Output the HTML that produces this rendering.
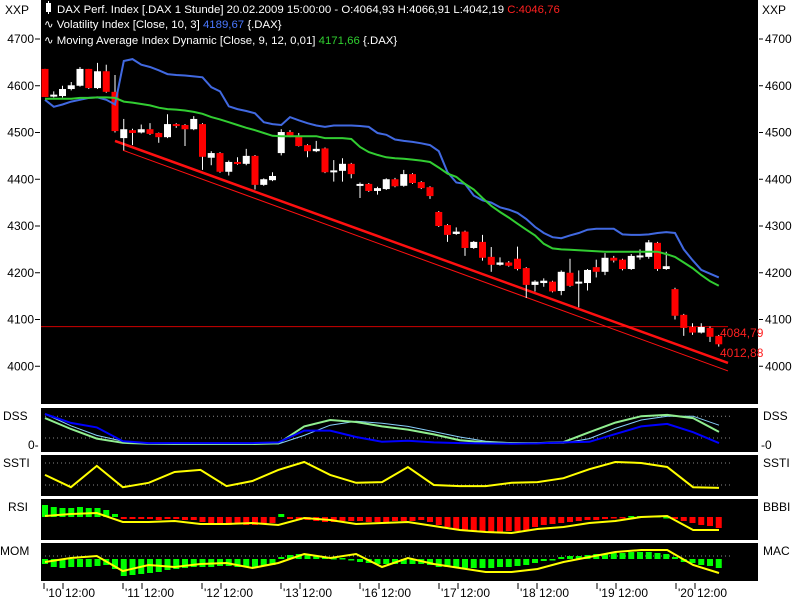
<!DOCTYPE html>
<html><head><meta charset="utf-8"><style>
body{margin:0;background:#fff;width:800px;height:600px;overflow:hidden}
svg{display:block}
text{font-family:"Liberation Sans",sans-serif;font-size:12px}
#legend text{font-size:11.4px}
</style></head><body>
<svg id="c" width="800" height="600" xmlns="http://www.w3.org/2000/svg">
<rect width="800" height="600" fill="#fff"/>
<rect x="41" y="0" width="717" height="404" fill="#000"/>
<rect x="41" y="408" width="717" height="44" fill="#000"/>
<rect x="41" y="455" width="717" height="41" fill="#000"/>
<rect x="41" y="499" width="717" height="41" fill="#000"/>
<rect x="41" y="543" width="717" height="38" fill="#000"/>
<g id="legend">
<rect x="46" y="3" width="5" height="9" fill="#fff"/>
<line x1="48.5" y1="1" x2="48.5" y2="14" stroke="#fff"/>
<text x="57" y="13" fill="#fff">DAX Perf. Index [.DAX  1 Stunde] 20.02.2009 15:00:00 - O:4064,93 H:4066,91 L:4042,19 <tspan fill="#ff2020">C:4046,76</tspan></text>
<text x="44" y="28" fill="#fff">∿ Volatility Index [Close, 10, 3] <tspan fill="#4a78ff">4189,67</tspan> {.DAX}</text>
<text x="44" y="44" fill="#fff">∿ Moving Average Index Dynamic [Close, 9, 12, 0,01] <tspan fill="#30d030">4171,66</tspan> {.DAX}</text>
</g>
<text x="5" y="14" fill="#000">XXP</text>
<text x="762" y="14" fill="#000">XXP</text>
<g id="ax"></g>
<g id="marks"></g>
</svg>
<script>
var priceTicks=[4700,4600,4500,4400,4300,4200,4100,4000];
var openV=[4636,4578,4578,4593,4600,4636,4595,4631,4587,4488,4505,4500,4507,4499,4490,4518,4516,4507,4518,4446,4456,4416,4437,4433,4450,4388,4398,4456,4501,4493,4473,4460,4466,4415,4418,4433,4386,4390,4375,4379,4400,4386,4411,4394,4383,4330,4302,4283,4288,4253,4266,4234,4217,4222,4230,4210,4174,4178,4181,4161,4200,4178,4178,4212,4202,4232,4228,4208,4234,4234,4264,4208,4165,4110,4084,4072,4082,4065];
var closeV=[4576,4581,4593,4601,4636,4595,4631,4587,4503,4507,4499,4507,4497,4490,4518,4514,4507,4529,4448,4456,4416,4437,4433,4450,4388,4400,4407,4501,4493,4471,4460,4465,4415,4419,4433,4411,4390,4375,4381,4400,4385,4411,4392,4381,4364,4300,4281,4288,4253,4266,4232,4217,4222,4215,4208,4174,4181,4183,4160,4202,4172,4181,4206,4202,4232,4226,4208,4236,4237,4265,4208,4214,4108,4082,4072,4084,4063,4047];
var highV=[4636,4588,4600,4608,4640,4636,4649,4645,4623,4529,4508,4517,4520,4500,4539,4520,4518,4535,4520,4460,4458,4440,4447,4465,4452,4402,4415,4507,4505,4499,4475,4482,4468,4441,4445,4435,4393,4392,4384,4402,4403,4420,4413,4396,4385,4332,4304,4297,4290,4268,4281,4255,4233,4225,4256,4212,4184,4188,4183,4205,4230,4205,4208,4228,4242,4236,4230,4240,4250,4270,4266,4245,4168,4112,4092,4092,4085,4067];
var lowV=[4576,4575,4575,4590,4598,4593,4593,4585,4500,4462,4473,4498,4495,4478,4488,4510,4471,4505,4420,4430,4414,4408,4431,4430,4378,4386,4396,4451,4490,4470,4447,4458,4413,4395,4395,4402,4360,4373,4367,4377,4383,4384,4390,4379,4358,4298,4266,4281,4236,4251,4226,4202,4215,4213,4205,4146,4160,4170,4158,4152,4170,4126,4162,4190,4195,4222,4205,4206,4228,4230,4204,4206,4100,4065,4067,4070,4052,4042];
var volatility=[4570,4555,4560,4566,4570,4574,4575,4570,4560,4653,4657,4645,4640,4633,4625,4623,4622,4620,4618,4597,4588,4556,4550,4546,4541,4522,4518,4516,4533,4526,4520,4515,4512,4515,4515,4515,4514,4512,4499,4495,4485,4482,4480,4477,4473,4460,4415,4393,4390,4365,4355,4350,4340,4335,4328,4315,4298,4285,4276,4274,4280,4285,4292,4294,4294,4294,4282,4281,4281,4282,4285,4287,4285,4250,4227,4206,4198,4190];
var movingAvg=[4572,4572,4572,4572,4574,4574,4575,4575,4574,4566,4564,4561,4558,4553,4550,4549,4547,4544,4540,4533,4528,4522,4516,4510,4505,4499,4493,4492,4492,4492,4492,4492,4488,4488,4488,4486,4469,4458,4452,4447,4445,4444,4442,4440,4437,4425,4412,4405,4390,4378,4360,4343,4330,4318,4305,4292,4280,4262,4252,4250,4249,4248,4247,4246,4245,4245,4245,4245,4245,4245,4245,4240,4234,4222,4210,4195,4182,4172];
var trendThick=[4482,4007];
var trendThin=[4462,3990];
var hLevel=4084.79;
var levelLabels=["4084,79","4012,88"];
var dssBlue=[97,69,55,12,6,6,6,6,6,8,45,45,25,10,13,8,6,5,4,5,8,10,34,58,66,40,6];
var dssGreen=[84,50,20,7,4,3,3,3,3,5,58,78,72,58,48,33,15,8,6,6,9,40,70,90,94,84,41];
var dssLight=[97,60,30,12,6,4,3,3,3,3,30,62,74,68,58,42,25,12,7,5,6,20,52,78,90,90,62];
var ssti=[53,19,78,19,31,61,67,22,36,67,89,53,31,33,75,25,22,22,31,33,44,69,89,86,75,19,17];
var rsiBars=[12,10,9,9,10,9,9,7,3,-2,-2,-2,-2,-3,-2,-2,-3,-3,-5,-7,-7,-8,-7,-8,-8,-7,-6,3,-2,-3,-3,-4,-5,-5,-4,-4,-4,-5,-5,-5,-4,-4,-4,-3,-5,-8,-10,-12,-14,-14,-15,-15,-15,-14,-14,-13,-10,-8,-7,-6,-5,-4,-3,-3,-2,-1,-1,1,1,1,1,0,-2,-4,-6,-8,-9,-11];
var rsiLine=[1,3,4,-5,-5,-4,-7,-7,-6,-8,-1,-3,-7,-6,-5,-9,-13,-15,-16,-12,-10,-6,-4,0,1,-13,-13];
var momBars=[-5,-8,-9,-8,-8,-8,-7,-6,-10,-17,-16,-15,-14,-13,-11,-10,-9,-8,-8,-8,-7,-7,-8,-8,-8,-7,-6,2,4,5,4,3,2,1,1,-1,-3,-4,-5,-5,-5,-5,-5,-5,-6,-8,-8,-9,-9,-9,-9,-9,-8,-8,-7,-6,-4,-2,0,2,3,3,4,5,5,6,6,7,7,7,6,5,2,-3,-4,-6,-7,-9];
var momLine=[-3,1,3,-12,-6,-8,-5,-4,-9,-4,5,1,5,-8,1,-5,-9,-13,-13,-10,-3,2,7,9,9,-6,-14];
var dayLabels=["'10","'11","'12","'13","'16","'17","'18","'19","'20"];

var NS="http://www.w3.org/2000/svg";
var ax=document.getElementById('ax'), mk=document.getElementById('marks');
function el(t,a,p){var e=document.createElementNS(NS,t);for(var k in a)e.setAttribute(k,a[k]);(p||mk).appendChild(e);return e;}
function yP(v){return 39+(4700-v)*0.4675;}
function xC(i){return 45+i*8.75;}
function xS(k,n){return 45+k*(674/(n-1));}
function yDss(v){return 445-v*0.32;}
function ySsti(v){return 494-v*0.36;}
function yRsi(v){return 517-v;}
function yMom(v){return 559-v;}

priceTicks.forEach(function(v){
  var y=yP(v);
  var t=el('text',{x:34,y:y+4,'text-anchor':'end',fill:'#000'},ax);t.textContent=v;
  
  
  var l=el('line',{x1:35,y1:y,x2:40,y2:y,stroke:'#000'},ax);
  
  
  var t2=el('text',{x:765,y:y+4,fill:'#000'},ax);t2.textContent=v;
  
  
  var l2=el('line',{x1:759,y1:y,x2:763,y2:y,stroke:'#000'},ax);
  
  
});
var side=[["DSS",3,420,"DSS",763,420],["SSTI",3,467,"SSTI",763,467],["RSI",8,511,"BBBI",763,511],["MOM",0,555,"MAC",763,555]];
side.forEach(function(s){
  var a=el('text',{x:s[1],y:s[2],fill:'#000'},ax);a.textContent=s[0];
  
  
  var b=el('text',{x:s[4],y:s[5],fill:'#000'},ax);b.textContent=s[3];
  
  
});
var z1=el('text',{x:28,y:449,fill:'#000'},ax);z1.textContent="0-";


var z2=el('text',{x:761,y:449,fill:'#000'},ax);z2.textContent="-0";


dayLabels.forEach(function(d,k){
  var x=44+k*79;
  var g=el('line',{x1:x,y1:583,x2:x,y2:589,stroke:'#000'},ax);
  
  
  var g2=el('line',{x1:x+19,y1:583,x2:x+19,y2:589,stroke:'#000'},ax);
  
  
  var t=el('text',{x:x+2,y:597,fill:'#000'},ax);t.textContent=d;
  
  
  var t3=el('text',{x:x+21,y:597,fill:'#000'},ax);t3.textContent="12:00";
  
  
});
[[yDss(90)],[yDss(22)],[ySsti(86)],[ySsti(25)],[yMom(3)]].forEach(function(r){
  var l=el('line',{x1:45,y1:r[0],x2:730,y2:r[0],stroke:'#888','stroke-dasharray':'1,3'});
  
  
});
var hl=el('line',{x1:41,y1:yP(hLevel),x2:728,y2:yP(hLevel),stroke:'#d00000','stroke-width':1});


var tl=el('line',{x1:115,y1:yP(trendThick[0]),x2:728,y2:yP(trendThick[1]),stroke:'#ff1010','stroke-width':2.5});


var tl2=el('line',{x1:123,y1:yP(trendThin[0]),x2:728,y2:yP(trendThin[1]),stroke:'#ff1010','stroke-width':1});


var lb1=el('text',{x:720,y:337,fill:'#ff2020'});lb1.textContent=levelLabels[0];


var lb2=el('text',{x:720,y:357,fill:'#ff2020'});lb2.textContent=levelLabels[1];


for(var i=0;i<openV.length;i++){
  var x=xC(i),up=closeV[i]>=openV[i],col=up?'#fff':'#ff0000';
  var w=el('line',{x1:x,y1:yP(highV[i]),x2:x,y2:yP(lowV[i]),stroke:'#fff','stroke-width':1});
  
  
  var t=yP(Math.max(openV[i],closeV[i])),b=yP(Math.min(openV[i],closeV[i]));
  var r=el('rect',{x:x-3.5,y:t,width:7,height:Math.max(2,b-t),fill:col});
  
  
}
function poly(arr,xf,yf,col,w,name){
  var p=arr.map(function(v,k){return xf(k,arr.length).toFixed(1)+','+yf(v).toFixed(1);}).join(' ');
  var e=el('polyline',{points:p,fill:'none',stroke:col,'stroke-width':w});
  
  
}
poly(volatility,xC,yP,'#4169e1',2,'volatility-line');
poly(movingAvg,xC,yP,'#32cd32',2,'moving-average-line');
poly(dssLight,xS,yDss,'#87cefa',1,'dss-signal-line');
poly(dssGreen,xS,yDss,'#90ee90',2,'dss-green-line');
poly(dssBlue,xS,yDss,'#0000ff',2,'dss-blue-line');
poly(ssti,xS,ySsti,'#ffff00',2,'ssti-line');
rsiBars.forEach(function(v,i){
  var x=xC(i),y0=yRsi(0),y1=yRsi(v);
  var r=el('rect',{x:x-3,y:Math.min(y0,y1),width:6,height:Math.max(1.5,Math.abs(y1-y0)),fill:v>=0?'#00ff00':'#ff0000'});
  
  
});
poly(rsiLine,xS,yRsi,'#ffff00',2,'rsi-line');
momBars.forEach(function(v,i){
  var x=xC(i),y0=yMom(0),y1=yMom(v);
  var r=el('rect',{x:x-3,y:Math.min(y0,y1),width:6,height:Math.max(1.5,Math.abs(y1-y0)),fill:'#00ff00'});
  
  
});
poly(momLine,xS,yMom,'#ffff00',2,'mom-line');
</script>
</body></html>
